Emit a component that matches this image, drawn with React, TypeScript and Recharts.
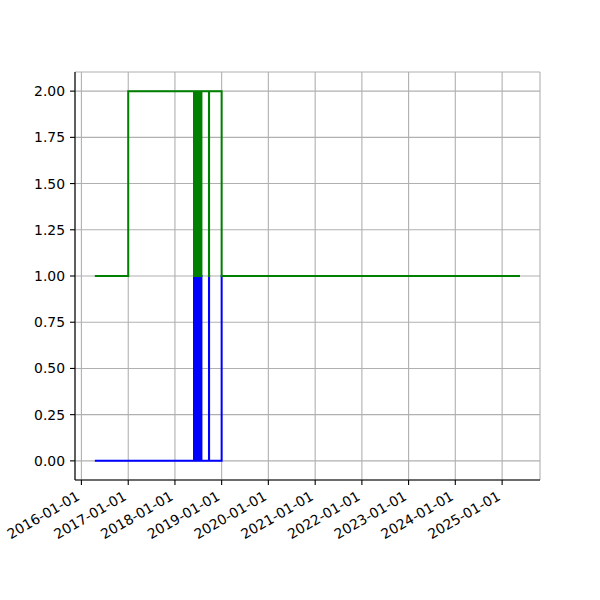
import { LineChart, Line, XAxis, YAxis, CartesianGrid } from 'recharts';

// change points; each value holds until the next date
const dates = [
  '2016-04-15', '2017-01-01',
  '2018-05-30', '2018-05-31', '2018-06-02', '2018-06-03', '2018-06-05', '2018-06-06',
  '2018-06-08', '2018-06-09', '2018-06-11', '2018-06-12', '2018-06-14', '2018-06-15',
  '2018-06-17', '2018-06-18', '2018-06-20', '2018-06-21', '2018-06-23', '2018-06-24',
  '2018-06-26', '2018-06-27', '2018-06-29', '2018-06-30', '2018-07-02', '2018-07-03',
  '2018-07-05', '2018-07-06', '2018-07-08', '2018-07-09', '2018-07-11', '2018-07-12',
  '2018-07-14', '2018-07-15', '2018-07-17', '2018-07-18', '2018-07-20', '2018-07-21',
  '2018-07-23', '2018-07-24', '2018-07-26', '2018-07-27',
  '2018-09-24', '2018-09-25',
  '2019-01-01', '2025-05-20',
];

const greenValues = [
  1, 2,
  1, 2, 1, 2, 1, 2,
  1, 2, 1, 2, 1, 2,
  1, 2, 1, 2, 1, 2,
  1, 2, 1, 2, 1, 2,
  1, 2, 1, 2, 1, 2,
  1, 2, 1, 2, 1, 2,
  1, 2, 1, 2,
  1, 2,
  1, 1,
];

const blueValues = [
  0, 0,
  1, 0, 1, 0, 1, 0,
  1, 0, 1, 0, 1, 0,
  1, 0, 1, 0, 1, 0,
  1, 0, 1, 0, 1, 0,
  1, 0, 1, 0, 1, 0,
  1, 0, 1, 0, 1, 0,
  1, 0, 1, 0,
  1, 0,
  1, 1,
];

const xTickLabels = [
  '2016-01-01', '2017-01-01', '2018-01-01', '2019-01-01', '2020-01-01',
  '2021-01-01', '2022-01-01', '2023-01-01', '2024-01-01', '2025-01-01',
];

const yTicks = [0, 0.25, 0.5, 0.75, 1, 1.25, 1.5, 1.75, 2];

const xDomain = [Date.parse('2015-11-12'), Date.parse('2025-10-24')];
const yDomain = [-0.1035, 2.1035];

const data = dates.map((d, i) => ({
  t: Date.parse(d),
  green: greenValues[i],
  blue: blueValues[i],
}));

const xTicks = xTickLabels.map((d) => Date.parse(d));

const FONT = 'DejaVu Sans, sans-serif';

function formatDate(ms: number): string {
  return new Date(ms).toISOString().slice(0, 10);
}

function DateTick(props: any) {
  const { x, y, payload } = props;
  const ax = x - 6;
  const ay = y + 2;
  return (
    <text
      x={ax}
      y={ay}
      transform={`rotate(-30, ${ax}, ${ay})`}
      textAnchor="end"
      dominantBaseline="hanging"
      fontFamily={FONT}
      fontSize={13.9}
      fill="#000"
    >
      {formatDate(payload.value)}
    </text>
  );
}

export default function App() {
  return (
    <div style={{ position: 'absolute', left: 0, top: 0, width: 600, height: 600, background: '#fff' }}>
      <LineChart
        width={600}
        height={600}
        data={data}
        margin={{ top: 72, right: 60, bottom: 60, left: 15 }}
      >
        <CartesianGrid stroke="#b0b0b0" strokeWidth={1.1} />
        <XAxis
          type="number"
          dataKey="t"
          domain={xDomain}
          allowDataOverflow
          ticks={xTicks}
          interval={0}
          height={60}
          tick={<DateTick />}
          tickSize={5}
          tickMargin={3}
          axisLine={{ stroke: '#000', strokeWidth: 1.1 }}
          tickLine={{ stroke: '#000', strokeWidth: 1.1 }}
        />
        <XAxis
          xAxisId="top"
          orientation="top"
          type="number"
          dataKey="t"
          domain={xDomain}
          allowDataOverflow
          height={0}
          tick={false}
          tickLine={false}
          axisLine={{ stroke: '#000', strokeWidth: 1.1 }}
        />
        <YAxis
          type="number"
          domain={yDomain}
          allowDataOverflow
          ticks={yTicks}
          interval={0}
          width={60}
          tickFormatter={(v: number) => v.toFixed(2)}
          tick={{ fontFamily: FONT, fontSize: 13.9, fill: '#000' }}
          tickSize={5}
          tickMargin={5}
          axisLine={{ stroke: '#000', strokeWidth: 1.1 }}
          tickLine={{ stroke: '#000', strokeWidth: 1.1 }}
        />
        <YAxis
          yAxisId="right"
          orientation="right"
          type="number"
          domain={yDomain}
          width={0}
          tick={false}
          tickLine={false}
          axisLine={{ stroke: '#000', strokeWidth: 1.1 }}
        />
        <Line
          type="stepAfter"
          dataKey="blue"
          stroke="#0000ff"
          strokeWidth={2}
          dot={false}
          activeDot={false}
          isAnimationActive={false}
        />
        <Line
          type="stepAfter"
          dataKey="green"
          stroke="#008000"
          strokeWidth={2}
          dot={false}
          activeDot={false}
          isAnimationActive={false}
        />
      </LineChart>
    </div>
  );
}
